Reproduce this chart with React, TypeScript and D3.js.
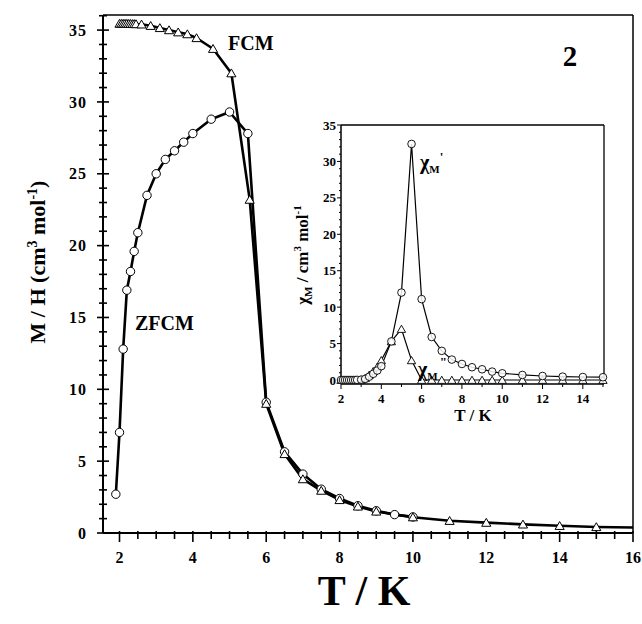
import React from 'react';
import * as d3 from 'd3';

// main plot: field-cooled / zero-field-cooled magnetisation
const fcmT = [2.0, 2.05, 2.1, 2.15, 2.2, 2.25, 2.3, 2.35, 2.4, 2.45, 2.6, 2.85, 3.1, 3.35, 3.6, 3.85, 4.1, 4.55, 5.05, 5.55, 6.0, 6.5, 7.0, 7.5, 8.0, 8.5, 9.0, 10.0, 11.0, 12.0, 13.0, 14.0, 15.0, 16.0];
const fcm = [35.45, 35.45, 35.45, 35.45, 35.45, 35.44, 35.44, 35.43, 35.43, 35.42, 35.4, 35.3, 35.15, 35.0, 34.85, 34.72, 34.45, 33.7, 32.0, 23.2, 9.0, 5.5, 3.75, 2.95, 2.3, 1.85, 1.5, 1.1, 0.85, 0.72, 0.6, 0.5, 0.42, 0.38];
const zfcmT = [1.9, 2.0, 2.1, 2.2, 2.3, 2.4, 2.5, 2.75, 3.0, 3.25, 3.5, 3.75, 4.0, 4.5, 5.0, 5.5, 6.0, 6.5, 7.0, 7.5, 8.0, 8.5, 9.0, 9.5, 10.0];
const zfcm = [2.7, 7.0, 12.8, 16.9, 18.2, 19.6, 20.9, 23.5, 25.0, 26.0, 26.6, 27.2, 27.8, 28.8, 29.3, 27.8, 9.1, 5.65, 4.1, 3.05, 2.4, 1.9, 1.55, 1.28, 1.12];

const mainYTicks = [0, 5, 10, 15, 20, 25, 30, 35];
const mainXTicks = [2, 4, 6, 8, 10, 12, 14, 16];

// inset: ac susceptibility
const acT = [2.0, 2.1, 2.2, 2.3, 2.4, 2.5, 2.6, 2.7, 2.8, 3.0, 3.2, 3.4, 3.6, 3.8, 4.0, 4.5, 5.0, 5.5, 6.0, 6.5, 7.0, 7.5, 8.0, 8.5, 9.0, 9.5, 10.0, 11.0, 12.0, 13.0, 14.0, 15.0];
const chiReal = [0, 0, 0, 0, 0, 0, 0, 0, 0.02, 0.05, 0.15, 0.45, 0.85, 1.3, 1.9, 5.3, 12.0, 32.4, 11.1, 5.9, 4.0, 2.8, 2.2, 1.75, 1.47, 1.15, 0.92, 0.69, 0.55, 0.46, 0.41, 0.38];
const chiImag = [0, 0, 0, 0, 0, 0, 0, 0, 0, 0.05, 0.25, 0.7, 1.2, 1.8, 2.7, 5.3, 7.0, 2.7, 0, 0, 0, 0, 0, 0, 0, 0, 0, 0, 0, 0, 0, 0];
const insetYTicks = [0, 5, 10, 15, 20, 25, 30, 35];
const insetXTicks = [2, 4, 6, 8, 10, 12, 14];

const FONT = '"Liberation Serif", "Times New Roman", serif';

export default function App() {
  const x = d3.scaleLinear().domain([1.55, 16]).range([103, 633]);
  const y = d3.scaleLinear().domain([0, 36.05]).range([533, 15]);

  const ix = d3.scaleLinear().domain([2, 15.05]).range([341, 604]);
  const iy = d3.scaleLinear().domain([-0.55, 35]).range([384, 125]);

  const fcmPts: [number, number][] = fcmT.map((t, i) => [t, fcm[i]]);
  const zfcmPts: [number, number][] = zfcmT.map((t, i) => [t, zfcm[i]]);
  const realPts: [number, number][] = acT.map((t, i) => [t, chiReal[i]]);
  const imagPts: [number, number][] = acT.map((t, i) => [t, chiImag[i]]);

  const mainLine = d3.line<[number, number]>().x(d => x(d[0])).y(d => y(d[1]));
  const insetLine = d3.line<[number, number]>().x(d => ix(d[0])).y(d => iy(d[1]));

  const tri = d3.symbol().type(d3.symbolTriangle).size(36)()!;
  const triSmall = d3.symbol().type(d3.symbolTriangle).size(30)()!;

  const yMinor = d3.range(0, 36.5, 1);
  const xMinor = d3.range(2, 16.01, 0.5);
  const iyMinor = d3.range(0, 35.5, 1);
  const ixMinor = d3.range(2, 15.01, 1);

  return (
    <svg width={642} height={624} style={{ position: 'absolute', left: 0, top: 0, display: 'block' }} fontFamily={FONT} fontWeight="bold">
      <rect x={0} y={0} width={642} height={624} fill="#fff" />

      {/* frame */}
      <line x1={103} x2={633} y1={15} y2={15} stroke="#000" strokeWidth={1.5} />
      <line x1={633} x2={633} y1={15} y2={533} stroke="#000" strokeWidth={1.5} />
      <line x1={103} x2={103} y1={15} y2={533} stroke="#000" strokeWidth={2} />
      <line x1={103} x2={633} y1={533} y2={533} stroke="#000" strokeWidth={2} />

      {/* y ticks */}
      {yMinor.map(v => {
        const major = v % 5 === 0;
        return <line key={'ym' + v} x1={major ? 97 : 99} x2={major ? 109 : 107} y1={y(v)} y2={y(v)} stroke="#000" strokeWidth={1.6} />;
      })}
      {mainYTicks.map(v => (
        <text key={'yl' + v} x={87} y={y(v)} dy="0.35em" textAnchor="end" fontSize={16} letterSpacing={1}>{v}</text>
      ))}

      {/* x ticks */}
      {xMinor.map(v => {
        const major = Math.abs(v - Math.round(v / 2) * 2) < 1e-6;
        return <line key={'xm' + v} x1={x(v)} x2={x(v)} y1={531} y2={major ? 542 : 539} stroke="#000" strokeWidth={1.6} />;
      })}
      {mainXTicks.map(v => (
        <text key={'xl' + v} x={x(v)} y={563} textAnchor="middle" fontSize={16}>{v}</text>
      ))}

      {/* axis titles */}
      <text transform="translate(45,262) rotate(-90)" textAnchor="middle" fontSize={22}>
        M / H (cm<tspan dy={-8} fontSize={14}>3</tspan><tspan dy={8}> mol</tspan><tspan dy={-8} fontSize={14}>-1</tspan><tspan dy={8}>)</tspan>
      </text>
      <text x={364} y={605} textAnchor="middle" fontSize={42}>T / K</text>

      {/* data lines */}
      <path d={mainLine(zfcmPts)!} fill="none" stroke="#000" strokeWidth={2.6} strokeLinejoin="round" />
      <path d={mainLine(fcmPts)!} fill="none" stroke="#000" strokeWidth={2.6} strokeLinejoin="round" />

      {zfcmPts.map((d, i) => (
        <circle key={'zc' + i} cx={x(d[0])} cy={y(d[1])} r={4.2} fill="#fff" stroke="#000" strokeWidth={1} />
      ))}
      {fcmPts.filter(d => d[0] < 16).map((d, i) => (
        <path key={'ft' + i} d={tri} transform={`translate(${x(d[0])},${y(d[1]) + 1})`} fill="#fff" stroke="#000" strokeWidth={1} />
      ))}

      <text x={228} y={50} fontSize={20}>FCM</text>
      <text x={135} y={330} fontSize={20}>ZFCM</text>
      <text x={570} y={66} textAnchor="middle" fontSize={29}>2</text>

      {/* inset */}
      <rect x={341} y={125} width={263} height={259} fill="#fff" stroke="none" />
      <line x1={341} x2={604} y1={125} y2={125} stroke="#000" strokeWidth={1.3} />
      <line x1={604} x2={604} y1={125} y2={384} stroke="#000" strokeWidth={1.3} />
      <line x1={341} x2={341} y1={125} y2={384} stroke="#000" strokeWidth={1.5} />
      <line x1={341} x2={604} y1={384} y2={384} stroke="#000" strokeWidth={1.5} />

      {iyMinor.map(v => (
        <line key={'iym' + v} x1={v % 5 === 0 ? 337 : 339} x2={341} y1={iy(v)} y2={iy(v)} stroke="#000" strokeWidth={1} />
      ))}
      {insetYTicks.map(v => (
        <text key={'iyl' + v} x={336} y={iy(v)} dy="0.35em" textAnchor="end" fontSize={13}>{v}</text>
      ))}
      {ixMinor.map(v => (
        <line key={'ixm' + v} x1={ix(v)} x2={ix(v)} y1={384} y2={v % 2 === 0 ? 389 : 387} stroke="#000" strokeWidth={1} />
      ))}
      {insetXTicks.map(v => (
        <text key={'ixl' + v} x={ix(v)} y={403} textAnchor="middle" fontSize={13}>{v}</text>
      ))}
      <text x={473} y={421} textAnchor="middle" fontSize={17}>T / K</text>
      <text transform="translate(308,255) rotate(-90)" textAnchor="middle" fontSize={17}>
        χ<tspan dy={4} fontSize={11}>M</tspan><tspan dy={-4}> / cm</tspan><tspan dy={-7} fontSize={11}>3</tspan><tspan dy={7}> mol</tspan><tspan dy={-7} fontSize={11}>-1</tspan>
      </text>

      <path d={insetLine(imagPts)!} fill="none" stroke="#000" strokeWidth={1.2} />
      <path d={insetLine(realPts)!} fill="none" stroke="#000" strokeWidth={1.2} />
      {imagPts.map((d, i) => (
        <path key={'it' + i} d={triSmall} transform={`translate(${ix(d[0])},${iy(d[1]) + 1})`} fill="#fff" stroke="#000" strokeWidth={0.9} />
      ))}
      {realPts.map((d, i) => (
        <circle key={'ic' + i} cx={ix(d[0])} cy={iy(d[1])} r={3.8} fill="#fff" fillOpacity={0.85} stroke="#000" strokeWidth={0.9} />
      ))}

      <text x={420} y={169} fontSize={20}>χ<tspan dy={4} fontSize={11}>M</tspan><tspan dy={-12} fontSize={13}>'</tspan></text>
      <text x={418} y={376} fontSize={20}>χ<tspan dy={4} fontSize={11}>M</tspan><tspan dy={-14} dx={2} fontSize={13}>"</tspan></text>
    </svg>
  );
}
